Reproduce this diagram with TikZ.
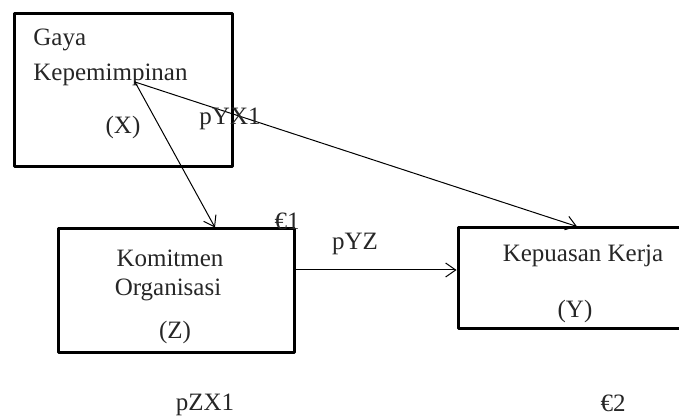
\documentclass[tikz,border=0pt]{standalone}
\usepackage{fontspec}
\setmainfont{Liberation Serif}
\usetikzlibrary{arrows.meta}

\tikzset{
	varbox/.style={draw, line width=1.5pt, rectangle, inner sep=0pt},
	lbl/.style={font=\fontsize{12.5}{14}\selectfont, text=black!85, inner sep=1pt},
	arr/.style={-{Straight Barb[length=5pt,width=7pt]}, line width=0.5pt}
}

\begin{document}
\begin{tikzpicture}[x=0.5pt, y=-0.5pt, line cap=round, line join=round]
	
	\useasboundingbox (0,0) rectangle (679,416);
	
	% ---------- Gaya Kepemimpinan (X) ----------
	\node[varbox, minimum width=109pt, minimum height=76.5pt] (X) at (123,90.5) {};
	\node[lbl, anchor=west] (xa) at (31,40) {Gaya};
	\node[lbl, anchor=west] (xb) at (31,75) {Kepemimpinan};
	\node[lbl] (xc) at (123,127) {(X)};
	\coordinate (src) at (135,82);
	
	% ---------- Komitmen Organisasi (Z) ----------
	\node[varbox, minimum width=118pt, minimum height=61.5pt] (Z) at (176,290.5) {};
	\node[lbl] (za) at (170,258) {Komitmen};
	\node[lbl] (zb) at (168,290) {Organisasi};
	\node[lbl] (zc) at (175,332) {(Z)};
	
	% ---------- Kepuasan Kerja (Y) ----------
	\node[varbox, minimum width=116pt, minimum height=50.5pt] (Y) at (574,278.5) {};
	\node[lbl] (ya) at (583,256) {Kepuasan Kerja};
	\node[lbl] (yb) at (575,311) {(Y)};
	
	% ---------- paths ----------
	\draw[arr] (src) -- ([xshift=19.5pt]Z.north);
	\draw[arr] (src) -- ([xshift=1.5pt]Y.north);
	\coordinate (zout) at ([yshift=10.25pt]Z.east);
	\draw[arr] (zout) -- (zout -| Y.west);
	
	% path labels
	\node[lbl] (pyx) at (230,119) {pYX1};
	\node[lbl] (pyz) at (355,244) {pYZ};
	\node[lbl] (pzx) at (205,405) {pZX1};
	\node[lbl] (e1) at (287,221) {€1};
	\node[lbl] (e2) at (613,403) {€2};
	
\end{tikzpicture}
\end{document}
